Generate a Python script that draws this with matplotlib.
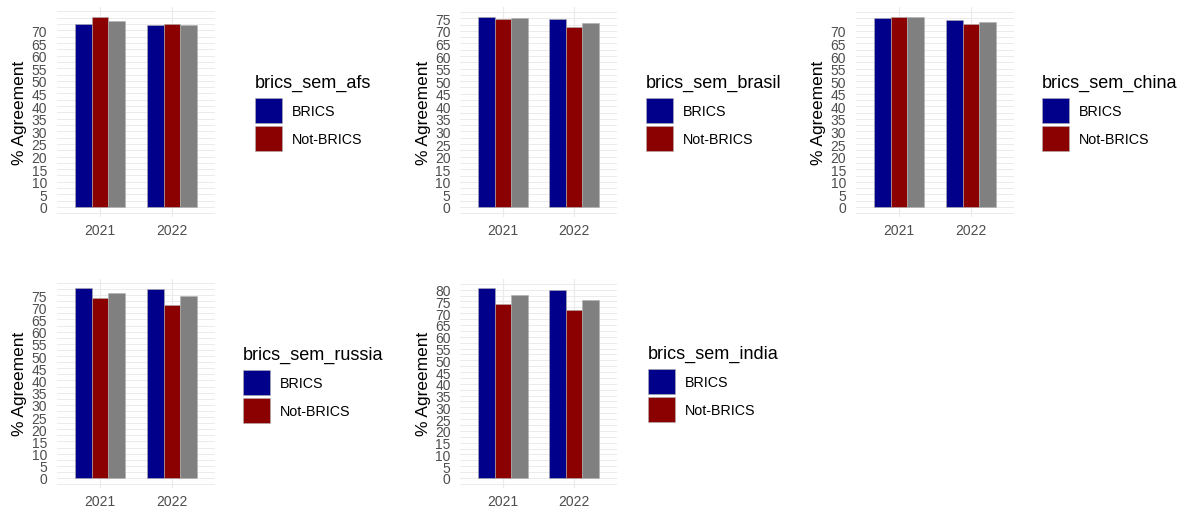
import numpy as np
import matplotlib
matplotlib.use("Agg")
import matplotlib.pyplot as plt
from matplotlib.patches import Rectangle

plt.rcParams['font.family'] = ['Liberation Sans', 'DejaVu Sans']

# data
years = ["2021", "2022"]
groups = ["BRICS", "Not-BRICS", "NA"]
panel_names = ["brics_sem_afs", "brics_sem_brasil", "brics_sem_china",
               "brics_sem_russia", "brics_sem_india"]

afs_values = [[72.6, 72.0], [75.5, 72.6], [73.9, 72.1]]
brasil_values = [[75.7, 74.6], [74.6, 71.7], [75.0, 73.2]]
china_values = [[75.0, 74.5], [75.7, 72.6], [75.6, 73.6]]
russia_values = [[77.9, 77.3], [73.9, 70.9], [75.8, 74.5]]
india_values = [[80.7, 79.7], [74.1, 71.4], [77.6, 75.5]]
all_values = [afs_values, brasil_values, china_values, russia_values, india_values]

# last labelled y tick in each panel
tick_max = [70, 75, 70, 75, 80]

colors = ["#00008B", "#8B0000", "#808080"]

W, H = 1179, 510
fig = plt.figure(figsize=(W / 100, H / 100), dpi=100)

# axes boxes in pixels: left, right, top, bottom
boxes = [(56.8, 215.2, 8, 217.5), (460.4, 616.6, 8, 217.5), (855.8, 1014.2, 8, 217.5),
         (56.8, 215.2, 279.5, 488.5), (460.4, 616.6, 279.5, 488.5)]
# legend: left of keys, top of first key, in pixels
legend_pos = [(255, 99), (646, 99), (1042, 99), (243, 371), (648, 370)]

tick_col = "#4D4D4D"
grid_col = "#EBEBEB"
dodge = 0.7
bw = dodge / len(groups)


def draw_legend(x0, y0, title, labels, cols):
    # ggplot style legend, drawn in figure pixels
    kw, kh, step = 26.5, 25, 28
    fig.text(x0 / W, 1 - (y0 - 16) / H, title, fontsize=13, ha="left", va="center")
    for k, (lab, c) in enumerate(zip(labels, cols)):
        top = y0 + k * step
        fig.patches.append(Rectangle((x0 / W, 1 - (top + kh) / H), kw / W, kh / H,
                                     facecolor=c, edgecolor="#B0B0B0", linewidth=0.4,
                                     transform=fig.transFigure, figure=fig))
        fig.text((x0 + 37) / W, 1 - (top + kh / 2 + 1) / H, lab, fontsize=10.3,
                 ha="left", va="center")


for i, vals in enumerate(all_values):
    l, r, t, b = boxes[i]
    ax = fig.add_axes([l / W, 1 - b / H, (r - l) / W, (b - t) / H])
    x = np.arange(1, len(years) + 1)
    for j, g in enumerate(groups):
        offs = (j - 1) * bw
        ax.bar(x + offs, vals[j], width=bw, color=colors[j],
               edgecolor="#B0B0B0", linewidth=0.4, zorder=3)

    vmax = max(max(v) for v in vals)
    ax.set_ylim(-0.05 * vmax, 1.05 * vmax)
    ax.set_xlim(0.4, 2.6)

    # ggplot-like grid
    for gy in np.arange(-2.5, 1.05 * vmax, 2.5):
        ax.axhline(gy, color=grid_col, lw=0.7, zorder=0)
    for gx in x:
        ax.axvline(gx, color=grid_col, lw=0.9, zorder=0)

    yt = np.arange(0, tick_max[i] + 1, 5)
    ax.set_yticks(yt)
    ax.set_yticklabels([str(v) for v in yt])
    ax.set_xticks(x)
    ax.set_xticklabels(years)
    ax.tick_params(axis="both", length=0, labelsize=10, labelcolor=tick_col)
    ax.tick_params(axis="y", pad=7)
    ax.tick_params(axis="x", pad=5)
    for s in ax.spines.values():
        s.set_visible(False)
    ax.set_ylabel("% Agreement", fontsize=12.5, labelpad=3)

    lx, ly = legend_pos[i]
    draw_legend(lx, ly, panel_names[i], groups[:2], colors[:2])

fig.savefig("out.png", dpi=100)
